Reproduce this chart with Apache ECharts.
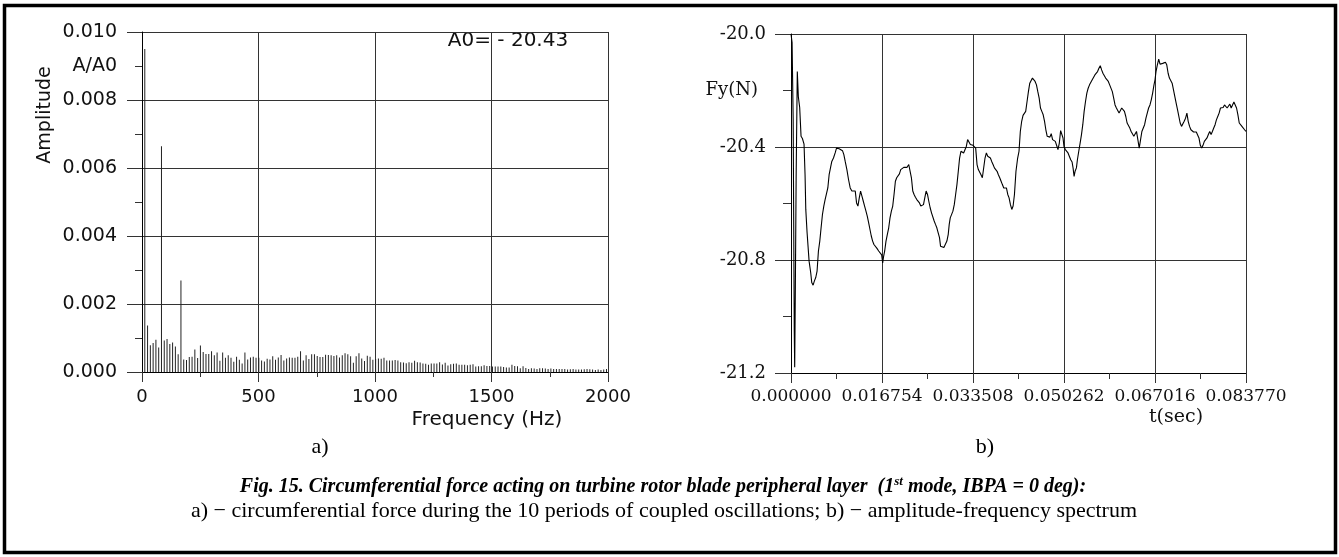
<!DOCTYPE html>
<html>
<head>
<meta charset="utf-8">
<script src="https://cdn.jsdelivr.net/npm/echarts@6/dist/echarts.min.js"></script>
<style>
  html, body { margin: 0; padding: 0; background: #fff; }
  #chart { width: 1339px; height: 557px; }
</style>
</head>
<body>
<div id="chart"></div>
<script>
// ---- Spectrum (a): amplitude ratio A/A0 per FFT bin, bins 1..167 ----
const sampleWindowSec = 0.08377;           // length of the analysed record
const spectrumAmp = [
  0.0095, 0.00137, 0.00079, 0.00085, 0.00095, 0.00072, 0.00664, 0.00093, 0.00097, 0.00082,
  0.00087, 0.00075, 0.00052, 0.00269, 0.00037, 0.00035, 0.00044, 0.00045, 0.00066, 0.00041,
  0.00078, 0.00059, 0.00053, 0.00053, 0.00061, 0.00049, 0.00057, 0.00033, 0.00057, 0.00042,
  0.00049, 0.00042, 0.0003, 0.00045, 0.00036, 0.00025, 0.00057, 0.00037, 0.00043, 0.00045,
  0.00042, 0.00042,
  0.00034, 0.00031, 0.00039, 0.00037, 0.00046, 0.00036, 0.00043, 0.0005, 0.00034, 0.0004,
  0.00043, 0.00042, 0.00042, 0.00045, 0.00061, 0.00034, 0.00049, 0.00038, 0.00052, 0.00052,
  0.00047, 0.00044, 0.00044, 0.00051, 0.0005, 0.00049, 0.00047, 0.00049, 0.00043, 0.00049,
  0.00055, 0.00052, 0.00046, 0.00027, 0.00046, 0.00055, 0.0004, 0.00032, 0.00048, 0.00045,
  0.00036, 0.00038,
  0.0004, 0.00039, 0.00042, 0.00034, 0.00034, 0.00034, 0.00035, 0.00034, 0.00029, 0.00028,
  0.00026, 0.00029, 0.00027, 0.00033, 0.00029, 0.00028, 0.00025, 0.00024, 0.00021, 0.00025,
  0.00025, 0.00025, 0.00029, 0.00022, 0.00027, 0.00019, 0.00023, 0.00024, 0.00025, 0.00021,
  0.00021, 0.00021, 0.0002, 0.00021, 0.00023, 0.00016, 0.00017, 0.00017, 0.0002, 0.00018,
  0.00018, 0.00016,
  0.00016, 0.00016, 0.00016, 0.00015, 0.00013, 0.00013, 0.00021, 0.00018, 0.00017, 0.00011,
  0.00017, 0.00012, 0.00009, 0.00011, 0.0001, 0.00009, 0.00011, 0.00011, 0.0001, 0.00009,
  0.0001, 0.00009, 0.00009, 0.00009, 0.00009, 0.00009, 0.00007, 0.00008, 0.00009, 0.00007,
  0.00007, 0.00007, 0.00008, 0.00009, 0.00008, 0.00007, 0.00006, 0.00007, 0.00006, 0.00007,
  0.00009
];
const freqTicks = [0, 500, 1000, 1500, 2000];
const ampTicks = [0.000, 0.002, 0.004, 0.006, 0.008, 0.010];

// ---- Time history (b): circumferential force Fy [s, N] ----
const forceSamples = [
  [0, -20.0], [0.0002, -20.03], [0.0004, -20.3], [0.0006, -21.05], [0.00068, -21.18],
  [0.0008, -20.9], [0.00095, -20.5], [0.00116, -20.133], [0.00135, -20.222], [0.0016, -20.26],
  [0.00185, -20.362], [0.0021, -20.37], [0.0024, -20.39], [0.00259, -20.5], [0.00272, -20.62],
  [0.00295, -20.7], [0.00333, -20.804], [0.00363, -20.845], [0.00382, -20.88], [0.00407, -20.889],
  [0.00431, -20.874], [0.00456, -20.862], [0.0048, -20.839], [0.00505, -20.768], [0.0053, -20.733],
  [0.00554, -20.686], [0.00579, -20.639], [0.00604, -20.609], [0.00628, -20.586], [0.00653, -20.58],
  [0.00678, -20.545], [0.00702, -20.498], [0.00727, -20.474], [0.00751, -20.451], [0.00782, -20.439],
  [0.00813, -20.421], [0.00838, -20.404], [0.00856, -20.398], [0.00887, -20.406], [0.00918, -20.406],
  [0.00948, -20.413], [0.00973, -20.427], [0.00998, -20.451], [0.01029, -20.48], [0.01059, -20.515],
  [0.0109, -20.545], [0.01121, -20.556], [0.01152, -20.551], [0.01183, -20.556], [0.01207, -20.598],
  [0.01232, -20.609], [0.01257, -20.58], [0.01281, -20.556], [0.01306, -20.574], [0.01331, -20.592],
  [0.01355, -20.609], [0.0138, -20.627], [0.01404, -20.645], [0.01429, -20.668], [0.01454, -20.692],
  [0.01478, -20.715], [0.01503, -20.733], [0.01527, -20.745], [0.01552, -20.751], [0.01583, -20.759],
  [0.01614, -20.768], [0.01645, -20.774], [0.01669, -20.782], [0.01688, -20.81], [0.01706, -20.786],
  [0.01725, -20.768], [0.01749, -20.733], [0.01774, -20.709], [0.01799, -20.686], [0.01823, -20.651],
  [0.01848, -20.627], [0.01873, -20.609], [0.01897, -20.568], [0.01922, -20.521], [0.01946, -20.509],
  [0.01971, -20.504], [0.01996, -20.495], [0.0202, -20.48], [0.02045, -20.474], [0.02076, -20.472],
  [0.02106, -20.474], [0.02137, -20.472], [0.02168, -20.462], [0.02193, -20.468], [0.02217, -20.509],
  [0.02242, -20.556], [0.02266, -20.568], [0.02291, -20.578], [0.02316, -20.586], [0.0234, -20.592],
  [0.02365, -20.598], [0.0239, -20.609], [0.02414, -20.615], [0.02439, -20.604], [0.02463, -20.58],
  [0.02488, -20.556], [0.02513, -20.568], [0.02537, -20.592], [0.02562, -20.615], [0.02587, -20.633],
  [0.02611, -20.639], [0.02636, -20.662], [0.0266, -20.674], [0.02685, -20.686], [0.0271, -20.704],
  [0.02734, -20.721], [0.02753, -20.751], [0.02784, -20.754], [0.02815, -20.756], [0.02846, -20.751],
  [0.0287, -20.733], [0.02895, -20.709], [0.02913, -20.674], [0.02932, -20.651], [0.02957, -20.648],
  [0.02981, -20.627], [0.03006, -20.604], [0.03031, -20.568], [0.03055, -20.533], [0.0308, -20.486],
  [0.03104, -20.439], [0.03129, -20.415], [0.03154, -20.409], [0.03178, -20.421], [0.03203, -20.415],
  [0.03228, -20.398], [0.03252, -20.374], [0.03277, -20.382], [0.03302, -20.391], [0.03326, -20.389],
  [0.03351, -20.394], [0.03375, -20.398], [0.034, -20.404], [0.03425, -20.462], [0.03449, -20.48],
  [0.03474, -20.486], [0.03498, -20.498], [0.03523, -20.509], [0.03548, -20.509], [0.03572, -20.439],
  [0.03597, -20.421], [0.03622, -20.433], [0.03646, -20.429], [0.03671, -20.439], [0.03695, -20.451],
  [0.0372, -20.462], [0.03745, -20.474], [0.03769, -20.472], [0.03794, -20.486], [0.03818, -20.498],
  [0.03843, -20.509], [0.03868, -20.521], [0.03892, -20.533], [0.03917, -20.545], [0.03942, -20.539],
  [0.03966, -20.545], [0.03991, -20.568], [0.04015, -20.58], [0.0404, -20.604], [0.04065, -20.621],
  [0.04089, -20.609], [0.04114, -20.568], [0.04142, -20.486], [0.04173, -20.439], [0.04198, -20.415],
  [0.04222, -20.345], [0.04247, -20.309], [0.04272, -20.288], [0.04297, -20.286], [0.04321, -20.274],
  [0.04346, -20.239], [0.04371, -20.204], [0.04396, -20.174], [0.0442, -20.168], [0.04445, -20.156],
  [0.0447, -20.149], [0.04494, -20.168], [0.04519, -20.18], [0.04544, -20.204], [0.04569, -20.227],
  [0.04593, -20.262], [0.04618, -20.274], [0.04643, -20.286], [0.04668, -20.309], [0.04692, -20.339],
  [0.04717, -20.362], [0.04742, -20.368], [0.04767, -20.365], [0.04791, -20.353], [0.04816, -20.374],
  [0.04841, -20.368], [0.04866, -20.38], [0.0489, -20.374], [0.04915, -20.409], [0.0494, -20.386],
  [0.04964, -20.342], [0.04989, -20.339], [0.05008, -20.368], [0.05026, -20.398], [0.05051, -20.409],
  [0.05076, -20.415], [0.051, -20.421], [0.05125, -20.427], [0.0515, -20.445], [0.05175, -20.453],
  [0.05193, -20.474], [0.05212, -20.504], [0.0523, -20.486], [0.05255, -20.474], [0.05273, -20.445],
  [0.05298, -20.415], [0.05323, -20.386], [0.05348, -20.356], [0.05372, -20.321], [0.05397, -20.274],
  [0.05422, -20.239], [0.05447, -20.209], [0.05471, -20.192], [0.05496, -20.18], [0.05521, -20.174],
  [0.05546, -20.162], [0.0557, -20.156], [0.05595, -20.145], [0.0562, -20.139], [0.05644, -20.133],
  [0.05669, -20.121], [0.05694, -20.112], [0.05719, -20.127], [0.05743, -20.139], [0.05768, -20.145],
  [0.05793, -20.156], [0.05818, -20.162], [0.05842, -20.168], [0.05867, -20.18], [0.05892, -20.186],
  [0.05916, -20.204], [0.05941, -20.227], [0.05966, -20.251], [0.05991, -20.262], [0.06015, -20.268],
  [0.0604, -20.28], [0.06065, -20.286], [0.06089, -20.262], [0.06114, -20.256], [0.06139, -20.274],
  [0.06164, -20.292], [0.06188, -20.315], [0.06213, -20.321], [0.06238, -20.333], [0.06262, -20.345],
  [0.06287, -20.351], [0.06312, -20.362], [0.06337, -20.356], [0.06361, -20.345], [0.06386, -20.374],
  [0.06411, -20.404], [0.06436, -20.374], [0.0646, -20.345], [0.06485, -20.342], [0.0651, -20.321],
  [0.06535, -20.298], [0.06559, -20.28], [0.06584, -20.262], [0.06609, -20.251], [0.06633, -20.233],
  [0.06658, -20.209], [0.06683, -20.18], [0.06702, -20.162], [0.0672, -20.133], [0.06745, -20.109],
  [0.0677, -20.089], [0.06794, -20.107], [0.06819, -20.109], [0.06844, -20.104], [0.06869, -20.098],
  [0.06893, -20.1], [0.06918, -20.109], [0.06943, -20.139], [0.06967, -20.156], [0.06992, -20.162],
  [0.07017, -20.174], [0.07042, -20.198], [0.07066, -20.221], [0.07091, -20.245], [0.07116, -20.268],
  [0.0714, -20.274], [0.07165, -20.315], [0.0719, -20.327], [0.07215, -20.321], [0.07239, -20.309],
  [0.07264, -20.298], [0.07289, -20.28], [0.07313, -20.309], [0.07338, -20.327], [0.07363, -20.339],
  [0.07388, -20.342], [0.07412, -20.347], [0.07437, -20.351], [0.07462, -20.347], [0.07486, -20.345],
  [0.07511, -20.368], [0.07536, -20.394], [0.07561, -20.404], [0.07585, -20.394], [0.0761, -20.38],
  [0.07635, -20.382], [0.07659, -20.368], [0.07684, -20.356], [0.07709, -20.345], [0.07734, -20.356],
  [0.07758, -20.345], [0.07783, -20.333], [0.07808, -20.321], [0.07832, -20.304], [0.07857, -20.292],
  [0.07882, -20.28], [0.07907, -20.262], [0.07931, -20.256], [0.07956, -20.26], [0.07981, -20.251],
  [0.08005, -20.256], [0.0803, -20.262], [0.08055, -20.256], [0.0808, -20.248], [0.08104, -20.262],
  [0.08129, -20.251], [0.08154, -20.241], [0.08178, -20.236], [0.08203, -20.262], [0.08228, -20.286],
  [0.08253, -20.315], [0.08277, -20.321], [0.08302, -20.327], [0.08327, -20.333], [0.08351, -20.339],
  [0.08376, -20.345]
];
const timeTicks = [0.000000, 0.016754, 0.033508, 0.050262, 0.067016, 0.083770];
const forceTicks = [-21.2, -20.8, -20.4, -20.0];

// ---- build ----
// FFT bin k sits at k / T Hz
const spectrumData = spectrumAmp.map((a, i) => [(i + 1) / sampleWindowSec, a]);

const GRID = '#333';
const SANS = 'DejaVu Sans';
const SERIF = 'DejaVu Serif';

const chart = echarts.init(document.getElementById('chart'), null, { renderer: 'canvas' });

function gridLine() { return { show: true, lineStyle: { color: GRID, width: 1 } }; }

function centered(extra) {
  return Object.assign({
    align: 'center', verticalAlign: 'middle',
    textAlign: 'center', textVerticalAlign: 'middle'
  }, extra);
}

const option = {
  animation: false,
  backgroundColor: '#fff',
  grid: [
    { left: 142, top: 32, width: 466, height: 340 },
    { left: 791, top: 34, width: 455, height: 339 }
  ],
  xAxis: [
    {
      gridIndex: 0, type: 'value',
      min: freqTicks[0], max: freqTicks[freqTicks.length - 1],
      interval: freqTicks[1] - freqTicks[0],
      axisLine: { show: true, onZero: false, lineStyle: { color: '#000', width: 1 } },
      axisTick: { show: true, length: 10, lineStyle: { color: GRID } },
      minorTick: { show: true, splitNumber: 2, length: 5, lineStyle: { color: GRID } },
      splitLine: gridLine(),
      axisLabel: {
        margin: 16, fontFamily: SANS, fontSize: 18, color: '#111',
        formatter: v => String(Math.round(v))
      }
    },
    {
      gridIndex: 1, type: 'value',
      min: timeTicks[0], max: timeTicks[timeTicks.length - 1],
      interval: timeTicks[1] - timeTicks[0],
      axisLine: { show: true, onZero: false, lineStyle: { color: '#000', width: 1 } },
      axisTick: { show: true, length: 10, lineStyle: { color: GRID } },
      minorTick: { show: true, splitNumber: 2, length: 6, lineStyle: { color: GRID } },
      splitLine: gridLine(),
      axisLabel: {
        margin: 15, fontFamily: SERIF, fontSize: 17, color: '#111',
        formatter: v => v.toFixed(6)
      }
    }
  ],
  yAxis: [
    {
      gridIndex: 0, type: 'value',
      min: ampTicks[0], max: ampTicks[ampTicks.length - 1],
      interval: ampTicks[1] - ampTicks[0],
      axisLine: { show: true, onZero: false, lineStyle: { color: '#000', width: 1 } },
      axisTick: { show: true, length: 15, lineStyle: { color: GRID } },
      minorTick: { show: true, splitNumber: 2, length: 7, lineStyle: { color: GRID } },
      splitLine: gridLine(),
      axisLabel: {
        margin: 25, fontFamily: SANS, fontSize: 19, color: '#111',
        formatter: v => v.toFixed(3)
      }
    },
    {
      // unit caption placed at the 0.009 minor tick
      gridIndex: 0, type: 'value', position: 'left',
      min: 0, max: 0.01, interval: 0.001,
      axisLine: { show: false }, axisTick: { show: false }, splitLine: { show: false },
      axisLabel: {
        margin: 25, fontFamily: SANS, fontSize: 19, color: '#111',
        formatter: v => (Math.round(v * 1000) === 9 ? 'A/A0' : '')
      }
    },
    {
      gridIndex: 1, type: 'value',
      min: forceTicks[0], max: forceTicks[forceTicks.length - 1],
      interval: 0.4,
      axisLine: { show: true, onZero: false, lineStyle: { color: '#000', width: 1 } },
      axisTick: { show: true, length: 16, lineStyle: { color: GRID } },
      minorTick: { show: true, splitNumber: 2, length: 8, lineStyle: { color: GRID } },
      splitLine: gridLine(),
      axisLabel: {
        margin: 25, fontFamily: SERIF, fontSize: 18, color: '#111',
        formatter: v => v.toFixed(1)
      }
    },
    {
      // quantity caption placed at the -20.2 minor tick
      gridIndex: 1, type: 'value', position: 'left',
      min: -21.2, max: -20.0, interval: 0.2,
      axisLine: { show: false }, axisTick: { show: false }, splitLine: { show: false },
      axisLabel: {
        margin: 33, fontFamily: SERIF, fontSize: 18, color: '#111',
        formatter: v => (Math.round(v * 10) === -202 ? 'Fy(N)' : '')
      }
    }
  ],
  series: [
    {
      type: 'bar', xAxisIndex: 0, yAxisIndex: 0,
      data: spectrumData, barWidth: 1, silent: true,
      itemStyle: { color: '#222' }
    },
    {
      type: 'line', xAxisIndex: 1, yAxisIndex: 2,
      data: forceSamples, showSymbol: false, silent: true,
      lineStyle: { color: '#000', width: 1.1 }
    }
  ],
  graphic: [
    {
      type: 'rect', silent: true,
      shape: { x: 4.5, y: 5.5, width: 1331, height: 547 },
      style: { fill: 'none', stroke: '#000', lineWidth: 3.5 }
    },
    {
      type: 'text', x: 45, y: 115, rotation: Math.PI / 2, silent: true,
      style: centered({ text: 'Amplitude', font: '19px "DejaVu Sans"', fill: '#111' })
    },
    {
      type: 'text', x: 508, y: 41, silent: true,
      style: centered({ text: 'A0= - 20.43', font: '20px "DejaVu Sans"', fill: '#111' })
    },
    {
      type: 'text', x: 487, y: 420, silent: true,
      style: centered({ text: 'Frequency (Hz)', font: '20px "DejaVu Sans"', fill: '#111' })
    },
    {
      type: 'text', x: 1176, y: 417, silent: true,
      style: centered({ text: 't(sec)', font: '19px "DejaVu Serif"', fill: '#111' })
    },
    {
      type: 'text', x: 320, y: 447, silent: true,
      style: centered({ text: 'a)', font: '22px "Liberation Serif"', fill: '#000' })
    },
    {
      type: 'text', x: 985, y: 447, silent: true,
      style: centered({ text: 'b)', font: '22px "Liberation Serif"', fill: '#000' })
    },
    {
      type: 'text', x: 663, y: 487, silent: true,
      style: centered({
        text: '{b|Fig. 15. Circumferential force acting on turbine rotor blade peripheral layer  (1}{s|st}{b| mode, IBPA = 0 deg):}',
        rich: {
          b: { font: 'italic bold 20px "Liberation Serif"', fill: '#000', lineHeight: 23 },
          s: { font: 'italic bold 13px "Liberation Serif"', fill: '#000', verticalAlign: 'top', lineHeight: 23, padding: [0, 0, 8, 0] }
        }
      })
    },
    {
      type: 'text', x: 664, y: 511, silent: true,
      style: centered({
        text: 'a) \u2212 circumferential force during the 10 periods of coupled oscillations; b) \u2212 amplitude-frequency spectrum',
        font: '22px "Liberation Serif"', fill: '#000'
      })
    }
  ]
};

chart.setOption(option);
</script>
</body>
</html>
